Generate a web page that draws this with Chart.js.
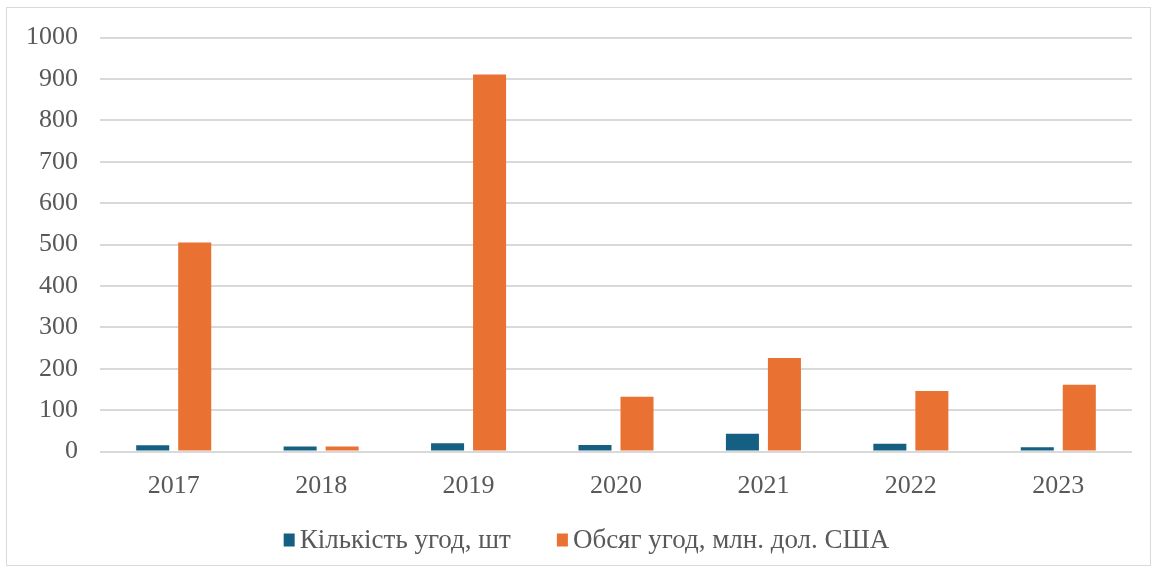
<!DOCTYPE html>
<html>
<head>
<meta charset="utf-8">
<script src="https://cdn.jsdelivr.net/npm/chart.js@4/dist/chart.umd.min.js"></script>
<style>
html,body{margin:0;padding:0;background:#fff;}
#wrap{width:1158px;height:571px;position:relative;}
</style>
</head>
<body>
<div id="wrap"><canvas id="c" width="1158" height="571"></canvas></div>
<script>
const categories = ["2017","2018","2019","2020","2021","2022","2023"];
const dealsCount = [15, 12, 20, 16, 43, 19, 10];
const dealsVolume = [505, 12, 911, 132, 226, 146, 161];
const seriesNames = ["Кількість угод, шт", "Обсяг угод, млн. дол. США"];
const yTicks = [0,100,200,300,400,500,600,700,800,900,1000];

const FONT = "'Liberation Serif', serif";
const TXT = "#595959";
Chart.defaults.font.family = FONT;
Chart.defaults.color = TXT;

const borderPlugin = {
  id: 'outerBorder',
  beforeDraw(chart){
    const ctx = chart.ctx;
    ctx.save();
    ctx.fillStyle = '#fff';
    ctx.fillRect(0,0,chart.width,chart.height);
    ctx.strokeStyle = '#d9d9d9';
    ctx.lineWidth = 1;
    ctx.strokeRect(6.5, 7.5, 1144, 558);
    ctx.restore();
  }
};

// Legend drawn on the canvas from the chart's own datasets
const serifLegend = {
  id: 'serifLegend',
  afterDraw(chart){
    const ctx = chart.ctx;
    const ds = chart.data.datasets;
    const box = 11, boxH = 13, gap = 5, itemGap = 46, cy = 540;
    ctx.save();
    ctx.font = "27px 'Liberation Serif', serif";
    ctx.textBaseline = 'middle';
    const widths = ds.map(d => ctx.measureText(d.label).width);
    const total = widths.reduce((a,w) => a + box + gap + w, 0) + itemGap*(ds.length-1);
    let x = 586.5 - total/2;
    ds.forEach((d,i) => {
      ctx.fillStyle = d.backgroundColor;
      ctx.fillRect(x, cy - boxH/2, box, boxH);
      x += box + gap;
      ctx.fillStyle = TXT;
      ctx.fillText(d.label, x, cy + 1);
      x += widths[i] + itemGap;
    });
    ctx.restore();
  }
};

new Chart(document.getElementById('c'), {
  type: 'bar',
  data: {
    labels: categories,
    datasets: [
      {label: seriesNames[0], data: dealsCount, backgroundColor: '#156082', categoryPercentage: 0.57, barPercentage: 0.786},
      {label: seriesNames[1], data: dealsVolume, backgroundColor: '#E97132', categoryPercentage: 0.57, barPercentage: 0.786}
    ]
  },
  options: {
    responsive: false,
    animation: false,
    devicePixelRatio: 1,
    layout: {padding: {left: 0, right: 26, top: 37, bottom: 53.5}},
    plugins: {
      tooltip: {enabled: false},
      legend: {display: false}
    },
    scales: {
      x: {
        grid: {display: false},
        border: {display: false},
        ticks: {font: {family: FONT, size: 26}, color: TXT, padding: 11, maxRotation: 0},
        afterFit(s){ s.height = 66; }
      },
      y: {
        min: 0, max: 1000,
        afterBuildTicks(s){ s.ticks = yTicks.map(v => ({value: v})); },
        grid: {color: '#d9d9d9', lineWidth: 2, drawTicks: false},
        border: {display: false},
        ticks: {font: {family: FONT, size: 26}, color: TXT, padding: 22, callback: v => String(v)},
        afterFit(s){ s.width = 100; }
      }
    }
  },
  plugins: [borderPlugin, serifLegend]
});
</script>
</body>
</html>
